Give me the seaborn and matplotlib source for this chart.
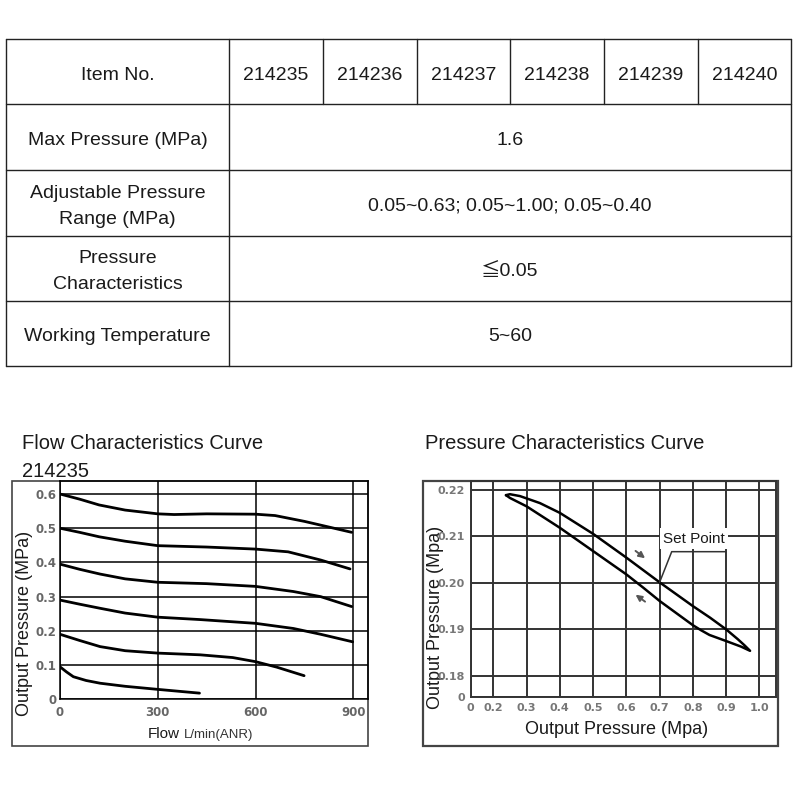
import numpy as np
import pandas as pd
import matplotlib
matplotlib.use("Agg")
import matplotlib.pyplot as plt
import seaborn as sns
from matplotlib.patches import Rectangle

# ---------------- data ----------------
item_header = "Item No."
item_numbers = ["214235", "214236", "214237", "214238", "214239", "214240"]
spec_labels = ["Max Pressure (MPa)", "Adjustable Pressure\nRange (MPa)",
               "Pressure\nCharacteristics", "Working Temperature"]
spec_values = ["1.6", "0.05~0.63; 0.05~1.00; 0.05~0.40", "≦0.05", "5~60"]

flow_title = "Flow Characteristics Curve"
flow_model = "214235"
pressure_title = "Pressure Characteristics Curve"

# Flow characteristics curves (flow L/min, output pressure MPa)
flow_c1 = [0, 60, 120, 200, 300, 350, 450, 600, 660, 750, 895]
pres_c1 = [0.600, 0.585, 0.568, 0.553, 0.542, 0.540, 0.542, 0.541, 0.537, 0.520, 0.488]
flow_c2 = [0, 60, 120, 200, 300, 450, 600, 700, 800, 890]
pres_c2 = [0.500, 0.488, 0.475, 0.462, 0.449, 0.445, 0.439, 0.431, 0.407, 0.381]
flow_c3 = [0, 60, 123, 200, 300, 450, 600, 716, 800, 895]
pres_c3 = [0.395, 0.380, 0.366, 0.352, 0.342, 0.338, 0.330, 0.315, 0.300, 0.271]
flow_c4 = [0, 60, 123, 200, 300, 430, 600, 716, 800, 898]
pres_c4 = [0.290, 0.278, 0.266, 0.252, 0.240, 0.233, 0.222, 0.207, 0.190, 0.168]
flow_c5 = [0, 60, 123, 200, 300, 430, 530, 600, 665, 749]
pres_c5 = [0.190, 0.172, 0.154, 0.142, 0.135, 0.130, 0.122, 0.110, 0.094, 0.069]
flow_c6 = [0, 20, 41, 80, 123, 200, 300, 428]
pres_c6 = [0.095, 0.080, 0.066, 0.055, 0.047, 0.038, 0.029, 0.018]

flow_ticks = [0, 300, 600, 900]
flow_tick_labels = ["0", "300", "600", "900"]
flow_p_ticks = [0, 0.1, 0.2, 0.3, 0.4, 0.5, 0.6]
flow_p_tick_labels = ["0", "0.1", "0.2", "0.3", "0.4", "0.5", "0.6"]

# Pressure characteristics hysteresis loop
upper_x = [0.238, 0.25, 0.28, 0.34, 0.40, 0.50, 0.60, 0.70, 0.80, 0.852, 0.90, 0.935, 0.955, 0.972]
upper_y = [0.2188, 0.2190, 0.2186, 0.2171, 0.2150, 0.2105, 0.2054, 0.2001, 0.1950, 0.1925, 0.1900, 0.1879, 0.1866, 0.1854]
lower_x = [0.972, 0.945, 0.90, 0.85, 0.825, 0.80, 0.75, 0.70, 0.65, 0.60, 0.50, 0.40, 0.30, 0.25, 0.238]
lower_y = [0.1854, 0.1863, 0.1875, 0.1888, 0.1898, 0.1909, 0.1935, 0.1961, 0.1990, 0.2018, 0.2068, 0.2118, 0.2164, 0.2182, 0.2188]
set_point_x, set_point_y = 0.70, 0.2001

p_in_ticks = [0, 0.2, 0.3, 0.4, 0.5, 0.6, 0.7, 0.8, 0.9, 1.0]
p_in_tick_labels = ["0", "0.2", "0.3", "0.4", "0.5", "0.6", "0.7", "0.8", "0.9", "1.0"]
p_out_ticks = [0, 0.18, 0.19, 0.20, 0.21, 0.22]
p_out_tick_labels = ["0", "0.18", "0.19", "0.20", "0.21", "0.22"]

# ---------------- style ----------------
sns.set_style("white")
plt.rcParams["font.family"] = ["Liberation Sans", "Noto Sans CJK SC", "DejaVu Sans"]

fig = plt.figure(figsize=(8, 8), dpi=100)
fig.patch.set_facecolor("white")

# background axes in pixel coordinates (y downward)
bg = fig.add_axes([0, 0, 1, 1], zorder=0)
bg.set_xlim(0, 800)
bg.set_ylim(800, 0)
bg.axis("off")

TXT = "#1a1a1a"

# ---------------- table ----------------
rows_y = [39.3, 104, 170, 235.7, 300.7, 366]
col_x = [6, 229.3, 323, 416.7, 510.3, 604, 697.7, 791]
tlw = 1.0
tcol = "#222222"
for y in rows_y:
    bg.plot([col_x[0], col_x[-1]], [y, y], color=tcol, lw=tlw)
for x in (col_x[0], col_x[1], col_x[-1]):
    bg.plot([x, x], [rows_y[0], rows_y[-1]], color=tcol, lw=tlw)
for x in col_x[2:-1]:
    bg.plot([x, x], [rows_y[0], rows_y[1]], color=tcol, lw=tlw)


def cell_text(xc, y0, y1, s, fs=14):
    lines = s.split("\n")
    n = len(lines)
    yc = (y0 + y1) / 2 + 1
    for i, ln in enumerate(lines):
        yb = yc + (i - (n - 1) / 2) * 25.7 + 7
        bg.text(xc, yb, ln, ha="center", va="baseline", fontsize=fs, color=TXT)


cell_text((col_x[0] + col_x[1]) / 2, rows_y[0], rows_y[1], item_header)
for i, num in enumerate(item_numbers):
    cell_text((col_x[i + 1] + col_x[i + 2]) / 2, rows_y[0], rows_y[1], num)
for i, (lab, val) in enumerate(zip(spec_labels, spec_values)):
    cell_text((col_x[0] + col_x[1]) / 2, rows_y[i + 1], rows_y[i + 2], lab)
    cell_text((col_x[1] + col_x[-1]) / 2, rows_y[i + 1], rows_y[i + 2], val)

# ---------------- titles / frames ----------------
bg.text(22, 449, flow_title, ha="left", va="baseline", fontsize=14.5, color=TXT)
bg.text(22, 476.7, flow_model, ha="left", va="baseline", fontsize=14.5, color=TXT)
bg.text(425, 449, pressure_title, ha="left", va="baseline", fontsize=14.5, color=TXT)

bg.add_patch(Rectangle((12.3, 481), 356, 265, fill=False, edgecolor="#444444", lw=1.2))
bg.add_patch(Rectangle((422.7, 480.7), 355, 265.3, fill=False, edgecolor="#444444", lw=1.6))

# ---------------- flow chart ----------------
curves = [(flow_c1, pres_c1), (flow_c2, pres_c2), (flow_c3, pres_c3),
          (flow_c4, pres_c4), (flow_c5, pres_c5), (flow_c6, pres_c6)]
flow_df = pd.concat([pd.DataFrame({"flow": f, "pressure": p, "curve": k})
                     for k, (f, p) in enumerate(curves)], ignore_index=True)

axL = fig.add_axes([60 / 800, 1 - 699.3 / 800, 308.3 / 800, 218.3 / 800], zorder=2)
axL.set_facecolor("none")
sns.lineplot(data=flow_df, x="flow", y="pressure", units="curve", estimator=None,
             sort=False, color="black", lw=2.0, ax=axL, zorder=3)
axL.set_xlim(0, 946)
axL.set_ylim(0, 0.638)
axL.set_xticks(flow_ticks)
axL.set_xticklabels(flow_tick_labels)
axL.set_yticks(flow_p_ticks)
axL.set_yticklabels(flow_p_tick_labels)
axL.grid(True, color="black", lw=1.1)
axL.tick_params(length=0, labelsize=8.5, labelcolor="#666666")
axL.tick_params(axis="x", pad=5)
axL.tick_params(axis="y", pad=2.5)
for lab in axL.get_xticklabels() + axL.get_yticklabels():
    lab.set_family("DejaVu Sans")
    lab.set_weight("bold")
axL.set_xlabel("")
axL.set_ylabel("")
for sp in axL.spines.values():
    sp.set_color("black")
    sp.set_linewidth(1.1)

bg.text(24.5, 623, "Output Pressure (MPa)", rotation=90, ha="center", va="center",
        fontsize=13, color=TXT)
bg.text(148, 738, "Flow", ha="left", va="baseline", fontsize=11, color=TXT)
bg.text(184, 738, "L/min(ANR)", ha="left", va="baseline", fontsize=9.5, color="#333333")

# ---------------- pressure chart (broken axes near origin) ----------------
def fx(x):
    x = np.asarray(x, dtype=float)
    return np.where(x < 0.2, 0.132 + x * 0.34, x)


def fx_inv(u):
    u = np.asarray(u, dtype=float)
    return np.where(u < 0.2, (u - 0.132) / 0.34, u)


def fy(y):
    y = np.asarray(y, dtype=float)
    return np.where(y < 0.18, 0.175556 + y * (0.004444 / 0.18), y)


def fy_inv(u):
    u = np.asarray(u, dtype=float)
    return np.where(u < 0.18, (u - 0.175556) / (0.004444 / 0.18), u)


axR = fig.add_axes([470.7 / 800, 1 - 696.7 / 800, 305.3 / 800, 216 / 800], zorder=2)
axR.set_facecolor("none")
axR.set_xscale("function", functions=(fx, fx_inv))
axR.set_yscale("function", functions=(fy, fy_inv))
loop_x = upper_x + lower_x
loop_y = upper_y + lower_y
sns.lineplot(x=loop_x, y=loop_y, sort=False, estimator=None, color="black",
             lw=1.8, ax=axR, zorder=3)
axR.set_xlim(0, 1.05)
axR.set_ylim(0, 0.2219)
axR.set_xticks(p_in_ticks)
axR.set_xticklabels(p_in_tick_labels)
axR.set_yticks(p_out_ticks)
axR.set_yticklabels(p_out_tick_labels)
axR.minorticks_off()
axR.grid(True, color="#333333", lw=1.4)
axR.tick_params(length=0, labelsize=8, labelcolor="#777777")
axR.tick_params(axis="x", pad=4.5)
axR.tick_params(axis="y", pad=4)
for lab in axR.get_xticklabels() + axR.get_yticklabels():
    lab.set_family("DejaVu Sans")
    lab.set_weight("bold")
axR.set_xlabel("")
axR.set_ylabel("")
for sp in axR.spines.values():
    sp.set_color("#333333")
    sp.set_linewidth(1.4)

# set point annotation
axR.text(0.8034, 0.2094, "Set Point", ha="center", va="center", fontsize=11,
         color=TXT, zorder=5,
         bbox=dict(facecolor="white", edgecolor="none", pad=2.5))
axR.plot([set_point_x, 0.7364, 0.8996], [set_point_y, 0.20667, 0.20667],
         color="#333333", lw=1.1, zorder=6)
axR.annotate("", xy=(0.663, 0.2049), xytext=(0.621, 0.2072),
             arrowprops=dict(arrowstyle="-|>", color="#555555", lw=1.4,
                             mutation_scale=9), zorder=6)
axR.annotate("", xy=(0.621, 0.1978), xytext=(0.663, 0.1956),
             arrowprops=dict(arrowstyle="-|>", color="#555555", lw=1.4,
                             mutation_scale=9), zorder=6)
# break marks near origin
bg.text(481, 698, "··", ha="center", va="center", fontsize=6, color="#555555")

bg.text(435, 617.5, "Output Pressure (Mpa)", rotation=90, ha="center", va="center",
        fontsize=13, color=TXT, zorder=10)
bg.text(616.7, 730, "Output Pressure (Mpa)", ha="center", va="center",
        fontsize=13, color=TXT)

fig.savefig("out.png", dpi=100, facecolor="white")
